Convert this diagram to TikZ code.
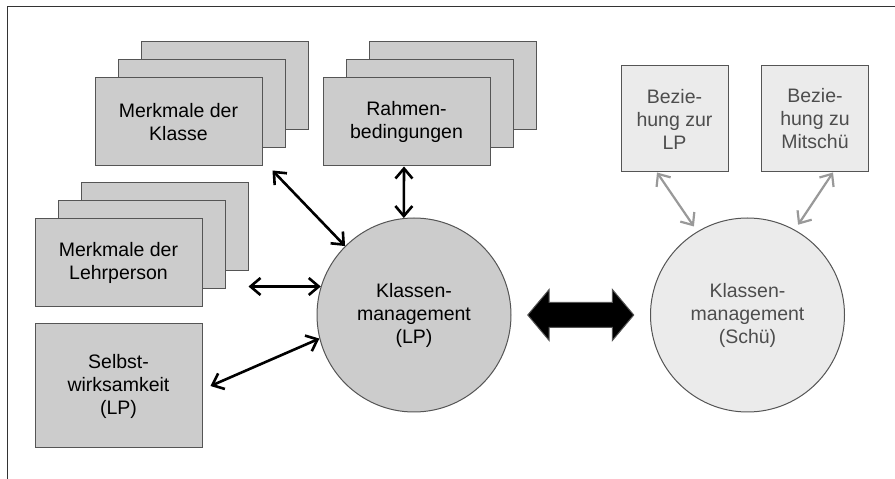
\documentclass[tikz,border=0pt]{standalone}
\usepackage{fontspec}
\setmainfont{Liberation Sans}
\usetikzlibrary{arrows.meta,shapes.arrows,calc}
\definecolor{boxgray}{RGB}{204,204,204}
\definecolor{schuefill}{RGB}{235,235,235}
\definecolor{edgegray}{RGB}{85,85,85}
\definecolor{schuetext}{RGB}{77,77,77}
\definecolor{arrowgray}{RGB}{153,153,153}
\begin{document}
\begin{tikzpicture}[x=1pt, y=1pt,
    label/.style = {align=center, font=\fontsize{19.5}{23}\selectfont},
    box/.style = {label, draw=edgegray, fill=boxgray, line width=1pt, inner sep=0pt, minimum width=167pt, minimum height=88pt},
    schuebox/.style = {box, fill=schuefill, text=schuetext, minimum width=107pt, minimum height=106pt},
    main/.style = {label, draw=edgegray, fill=boxgray, line width=1pt, circle, inner sep=0pt, minimum size=194pt},
    mainlight/.style = {main, fill=schuefill, text=schuetext},
    arr/.style = {{Straight Barb[length=10pt,width=17pt]}-{Straight Barb[length=10pt,width=17pt]}, line width=2.6pt},
    garr/.style = {arr, draw=arrowgray, line width=2.2pt, shorten >=6pt}]
\useasboundingbox (0,0) rectangle (895,479);
\draw[line width=1pt, black!80] (7,0) -- (7,472) -- (895,472);

% stacked boxes
\node[box] (klasse3) at (224.5,393) {};
\node[box] (klasse2) at ([shift={(-23,-18)}]klasse3) {};
\node[box] (klasse) at ([shift={(-23,-18)}]klasse2) {Merkmale der\\Klasse};

\node[box] (rahmen3) at (452.5,393) {};
\node[box] (rahmen2) at ([shift={(-23,-18)}]rahmen3) {};
\node[box] (rahmen) at ([shift={(-23,-18)}]rahmen2) {Rahmen-\\bedingungen};

\node[box] (lehr3) at (164.5,252.5) {};
\node[box] (lehr2) at ([shift={(-23,-18)}]lehr3) {};
\node[box] (lehr) at ([shift={(-23,-18)}]lehr2) {Merkmale der\\Lehrperson};

\node[box, minimum height=124pt] (selbst) at (118.5,93) {Selbst-\\wirksamkeit\\(LP)};

% circles
\node[main] (lp) at (414,164) {Klassen-\\management\\(LP)};
\node[mainlight] (schue) at (747.5,164) {Klassen-\\management\\(Schü)};

\node[schuebox] (bez1) at (674.5,360) {Bezie-\\hung zur\\LP};
\node[schuebox] (bez2) at (815,360) {Bezie-\\hung zu\\Mitschü};

\node[double arrow, fill=black, draw=edgegray, line width=1pt, inner xsep=0pt, inner ysep=12pt,
    double arrow head extend=13pt, double arrow tip angle=100, minimum height=106pt]
    (bigarrow) at ($(lp)!0.5!(schue)$) {};

\draw[arr] ([shift={(10,-4)}]klasse.south east) -- (lp.135);
\draw[arr] ([xshift=-2.5]rahmen.south) -- (lp.96);
\draw[arr] (lehr3.south east |- lp.163) -- (lp.163);
\draw[arr] ([xshift=8]selbst.east) -- (lp.194.5);
\draw[garr] ([xshift=-17.5]bez1.south) -- (schue.121);
\draw[garr] ([xshift=18]bez2.south) -- (schue.61);
\end{tikzpicture}
\end{document}
